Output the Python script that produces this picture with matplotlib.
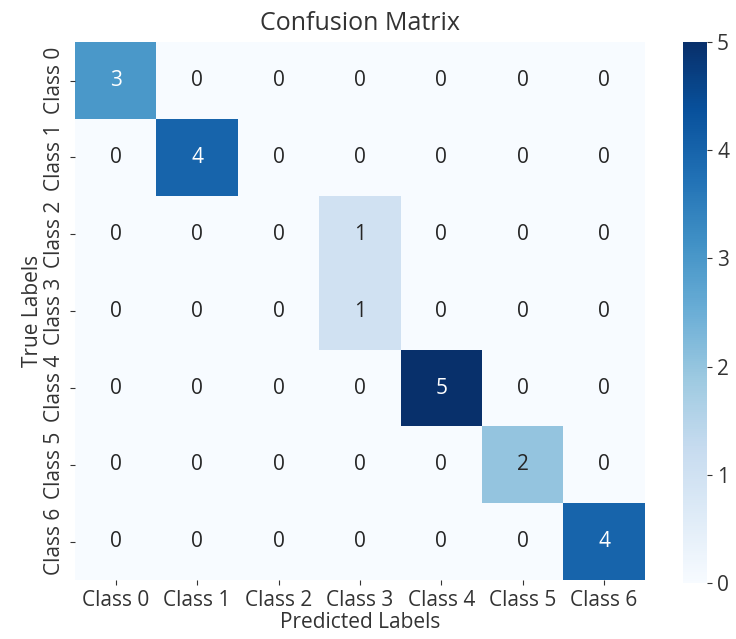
import matplotlib
matplotlib.use("Agg")
import matplotlib.pyplot as plt
import seaborn as sns
import numpy as np

classes = ["Class 0", "Class 1", "Class 2", "Class 3", "Class 4", "Class 5", "Class 6"]

# rows = true class, columns = predicted class
row_0 = [3, 0, 0, 0, 0, 0, 0]
row_1 = [0, 4, 0, 0, 0, 0, 0]
row_2 = [0, 0, 0, 1, 0, 0, 0]
row_3 = [0, 0, 0, 1, 0, 0, 0]
row_4 = [0, 0, 0, 0, 5, 0, 0]
row_5 = [0, 0, 0, 0, 0, 2, 0]
row_6 = [0, 0, 0, 0, 0, 0, 4]

cm = np.array([row_0, row_1, row_2, row_3, row_4, row_5, row_6])

plt.rcParams['font.family'] = ['Open Sans', 'DejaVu Sans']
plt.rcParams['text.color'] = '#333333'
plt.rcParams['xtick.color'] = '#333333'
plt.rcParams['ytick.color'] = '#333333'
plt.rcParams['axes.labelcolor'] = '#333333'
fs = 15

fig = plt.figure(figsize=(7.36, 6.39), dpi=100)
ax = fig.add_axes([0.102, 0.092, 0.774, 0.842])
cax = fig.add_axes([0.928, 0.088, 0.033, 0.846])

sns.heatmap(cm, annot=True, fmt='d', cmap='Blues', vmin=0, vmax=5,
            xticklabels=classes, yticklabels=classes,
            ax=ax, cbar_ax=cax, annot_kws={'fontsize': fs})

ax.set_title('Confusion Matrix', fontsize=18, pad=9)
ax.set_xlabel('Predicted Labels', fontsize=fs, labelpad=1)
ax.set_ylabel('True Labels', fontsize=fs, labelpad=1)
ax.tick_params(axis='x', labelsize=fs, rotation=0)
ax.tick_params(axis='y', labelsize=fs)
plt.setp(ax.get_yticklabels(), rotation=90, va='center')

cax.tick_params(labelsize=fs)

fig.savefig('out.png', dpi=100)
